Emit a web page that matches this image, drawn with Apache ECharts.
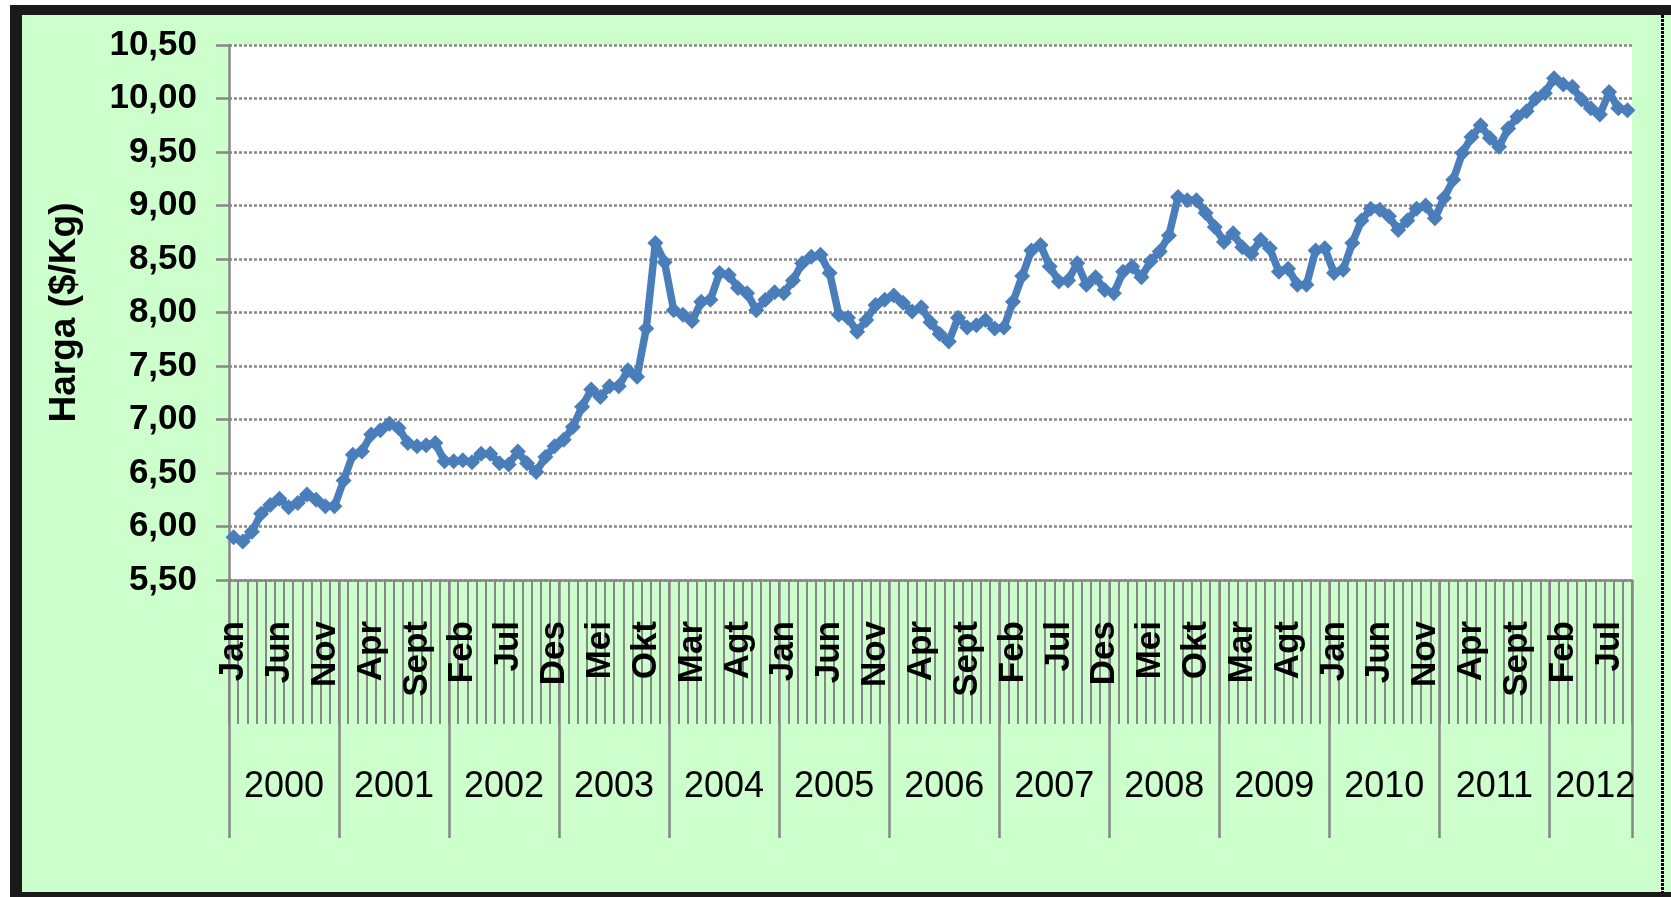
<!DOCTYPE html>
<html>
<head>
<meta charset="utf-8">
<script src="https://cdn.jsdelivr.net/npm/echarts@6/dist/echarts.min.js"></script>
<style>
  html, body { margin: 0; padding: 0; background: #fff; width: 1671px; height: 897px; overflow: hidden; }
  #frame { position: absolute; left: 10px; top: 5px; width: 1661px; height: 892px; background: #1a1a1a; }
  #inner { position: absolute; left: 12px; top: 10px; right: 0; bottom: 5px; background: #ccffcc; }
  #dots { position: absolute; left: 1661px; top: 15px; width: 3px; height: 877px;
          background: repeating-linear-gradient(to bottom, #000 0 3px, #fff 3px 4px); }
  #chart { position: absolute; left: 0; top: 0; width: 1671px; height: 897px; }
</style>
</head>
<body>
<div id="frame"><div id="inner"></div></div>
<div id="dots"></div>
<div id="chart"></div>
<script>
// ---- data ----
const monthNames = ['Jan','Feb','Mar','Apr','Mei','Jun','Jul','Agt','Sept','Okt','Nov','Des'];
const years = ['2000','2001','2002','2003','2004','2005','2006','2007','2008','2009','2010','2011','2012'];
const yAxisTitle = 'Harga ($/Kg)';

const v2000 = [5.90, 5.86, 5.95, 6.12, 6.20, 6.26, 6.18, 6.22, 6.30, 6.25, 6.19, 6.19];
const v2001 = [6.43, 6.67, 6.70, 6.86, 6.90, 6.96, 6.92, 6.78, 6.75, 6.76, 6.78, 6.61];
const v2002 = [6.61, 6.62, 6.60, 6.68, 6.68, 6.59, 6.58, 6.70, 6.59, 6.51, 6.65, 6.75];
const v2003 = [6.81, 6.93, 7.12, 7.28, 7.21, 7.31, 7.31, 7.46, 7.40, 7.85, 8.65, 8.47];
const v2004 = [8.02, 7.98, 7.92, 8.10, 8.12, 8.37, 8.35, 8.23, 8.18, 8.02, 8.12, 8.19];
const v2005 = [8.18, 8.30, 8.46, 8.52, 8.54, 8.37, 7.98, 7.95, 7.82, 7.93, 8.07, 8.12];
const v2006 = [8.16, 8.09, 8.01, 8.05, 7.91, 7.80, 7.73, 7.95, 7.86, 7.88, 7.93, 7.85];
const v2007 = [7.86, 8.10, 8.34, 8.58, 8.63, 8.43, 8.29, 8.30, 8.46, 8.26, 8.33, 8.21];
const v2008 = [8.18, 8.38, 8.43, 8.33, 8.48, 8.57, 8.72, 9.08, 9.05, 9.05, 8.93, 8.80];
const v2009 = [8.66, 8.74, 8.61, 8.55, 8.68, 8.60, 8.38, 8.41, 8.26, 8.26, 8.58, 8.60];
const v2010 = [8.37, 8.40, 8.65, 8.86, 8.97, 8.96, 8.90, 8.77, 8.86, 8.97, 9.00, 8.88];
const v2011 = [9.07, 9.24, 9.49, 9.64, 9.75, 9.63, 9.55, 9.72, 9.83, 9.88, 10.00, 10.05];
const v2012 = [10.19, 10.13, 10.11, 9.99, 9.91, 9.85, 10.06, 9.91, 9.89];

const yearValues = [v2000, v2001, v2002, v2003, v2004, v2005, v2006, v2007, v2008, v2009, v2010, v2011, v2012];

// ---- build categories ----
const categories = [];
const yearOfCat = [];
const values = [];
const yearStart = [];
const yearLabelIdx = {};
yearValues.forEach((arr, yi) => {
  yearStart.push(categories.length);
  const mid = categories.length + Math.floor((arr.length - 1) / 2);
  yearLabelIdx[mid] = years[yi];
  arr.forEach((v, mi) => {
    categories.push(monthNames[mi] + ' ' + years[yi]);
    yearOfCat.push(years[yi]);
    values.push(v);
  });
});
const yearStartSet = new Set(yearStart);

const FONT = 'Liberation Sans';
const GRAY = '#878787';

const chart = echarts.init(document.getElementById('chart'), null, { renderer: 'canvas' });
chart.setOption({
  animation: false,
  backgroundColor: 'transparent',
  grid: { left: 229, right: 39, top: 45, bottom: 317, show: true, backgroundColor: '#ffffff', borderWidth: 0 },
  xAxis: [
    {
      type: 'category',
      data: categories,
      boundaryGap: true,
      position: 'bottom',
      axisLine: { show: true, lineStyle: { color: GRAY, width: 2.5 } },
      axisTick: { show: true, interval: 0, length: 144, lineStyle: { color: GRAY, width: 2 } },
      axisLabel: {
        interval: 4, rotate: 90, margin: 41,
        fontFamily: FONT, fontWeight: 'bold', fontSize: 35, color: '#000',
        formatter: (val) => val.split(' ')[0]
      },
      splitLine: { show: false }
    },
    {
      type: 'category',
      data: yearOfCat,
      boundaryGap: true,
      position: 'bottom',
      axisLine: { show: false },
      axisTick: { show: true, length: 258, interval: (i) => yearStartSet.has(i), lineStyle: { color: GRAY, width: 2.5 } },
      axisLabel: {
        interval: (i) => yearLabelIdx[i] !== undefined,
        margin: 189, padding: [0, 0, 0, 9],
        fontFamily: FONT, fontSize: 36, color: '#000',
        formatter: (val) => val
      },
      splitLine: { show: false }
    }
  ],
  yAxis: {
    type: 'value',
    min: 5.5, max: 10.5, interval: 0.5,
    name: yAxisTitle,
    nameLocation: 'middle',
    nameRotate: 90,
    nameGap: 146,
    nameTextStyle: { fontFamily: FONT, fontWeight: 'bold', fontSize: 37, color: '#000' },
    axisLine: { show: true, lineStyle: { color: GRAY, width: 2.5 } },
    axisTick: { show: true, length: 13, lineStyle: { color: GRAY, width: 2.5 } },
    axisLabel: {
      margin: 32, fontFamily: FONT, fontWeight: 'bold', fontSize: 35, color: '#000',
      formatter: (v) => v.toFixed(2).replace('.', ',')
    },
    splitLine: { show: true, lineStyle: { color: GRAY, width: 2.5, type: [3, 2] } }
  },
  series: [{
    type: 'line',
    xAxisIndex: 0,
    data: values,
    showAllSymbol: true,
    symbol: 'diamond',
    symbolSize: 16,
    lineStyle: { color: '#4a7ebb', width: 7.5 },
    itemStyle: { color: '#4a7ebb' }
  }]
});
</script>
</body>
</html>
